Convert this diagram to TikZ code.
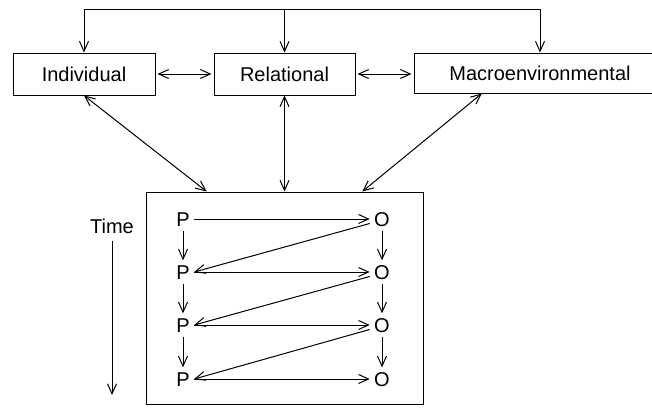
\documentclass[tikz,border=0pt]{standalone}
\usepackage{fontspec}
\setmainfont{Liberation Sans}
\usetikzlibrary{arrows.meta,calc}
\begin{document}
\begin{tikzpicture}[x=0.5pt,y=-0.5pt,line width=0.5pt,
   >={Straight Barb[length=5pt,width=4.5pt]},
   box/.style={draw,minimum height=21pt,inner sep=0pt},
   lbl/.style={inner sep=2pt,text height=7.2pt,text depth=0pt}]
   \useasboundingbox (0,0) rectangle (652,409);
   \node[box,minimum width=71pt] (ind) at (84,74) {Individual};
   \node[box,minimum width=70.5pt] (rel) at (284.5,74) {Relational};
   \node[box,minimum width=126pt,minimum height=20pt] (mac) at (540,73) {Macroenvironmental};
   \node[draw,minimum width=138.5pt,minimum height=106pt] (frame) at (284.5,298) {};
   \coordinate (bus) at (284.5,9);
   \draw[->] (bus) -| (ind.north);
   \draw[->] (bus) -| (mac.north);
   \draw[->] (bus) -- (rel.north);
   \draw[<->,shorten <=1pt,shorten >=1pt] (ind.east) -- (rel.west);
   \draw[<->,shorten <=1pt,shorten >=1pt] (rel.east) -- (mac.west |- rel.east);
   \draw[<->] (ind.south) -- ($(frame.north west)!0.22!(frame.north east)$);
   \draw[<->] (rel.south) -- (frame.north);
   \draw[<->] ($(mac.south west)!0.27!(mac.south east)$) -- ($(frame.north west)!0.78!(frame.north east)$);
   \node (time) at (112,226) {Time};
   \coordinate (tend) at (112,395);
   \draw[->] (time) -- (tend);
   \foreach \r/\y in {1/219,2/272,3/325,4/379} {
      \node[lbl] (P\r) at (183,\y) {P};
      \node[lbl] (O\r) at (382,\y) {O};
      \draw[->] (P\r) -- (O\r);
   }
   \foreach \r/\s in {1/2,2/3,3/4} {
      \draw[->] (P\r) -- (P\s);
      \draw[->] (O\r) -- (O\s);
      \draw[->] (O\r.200) -- (P\s.east);
   }
\end{tikzpicture}
\end{document}
